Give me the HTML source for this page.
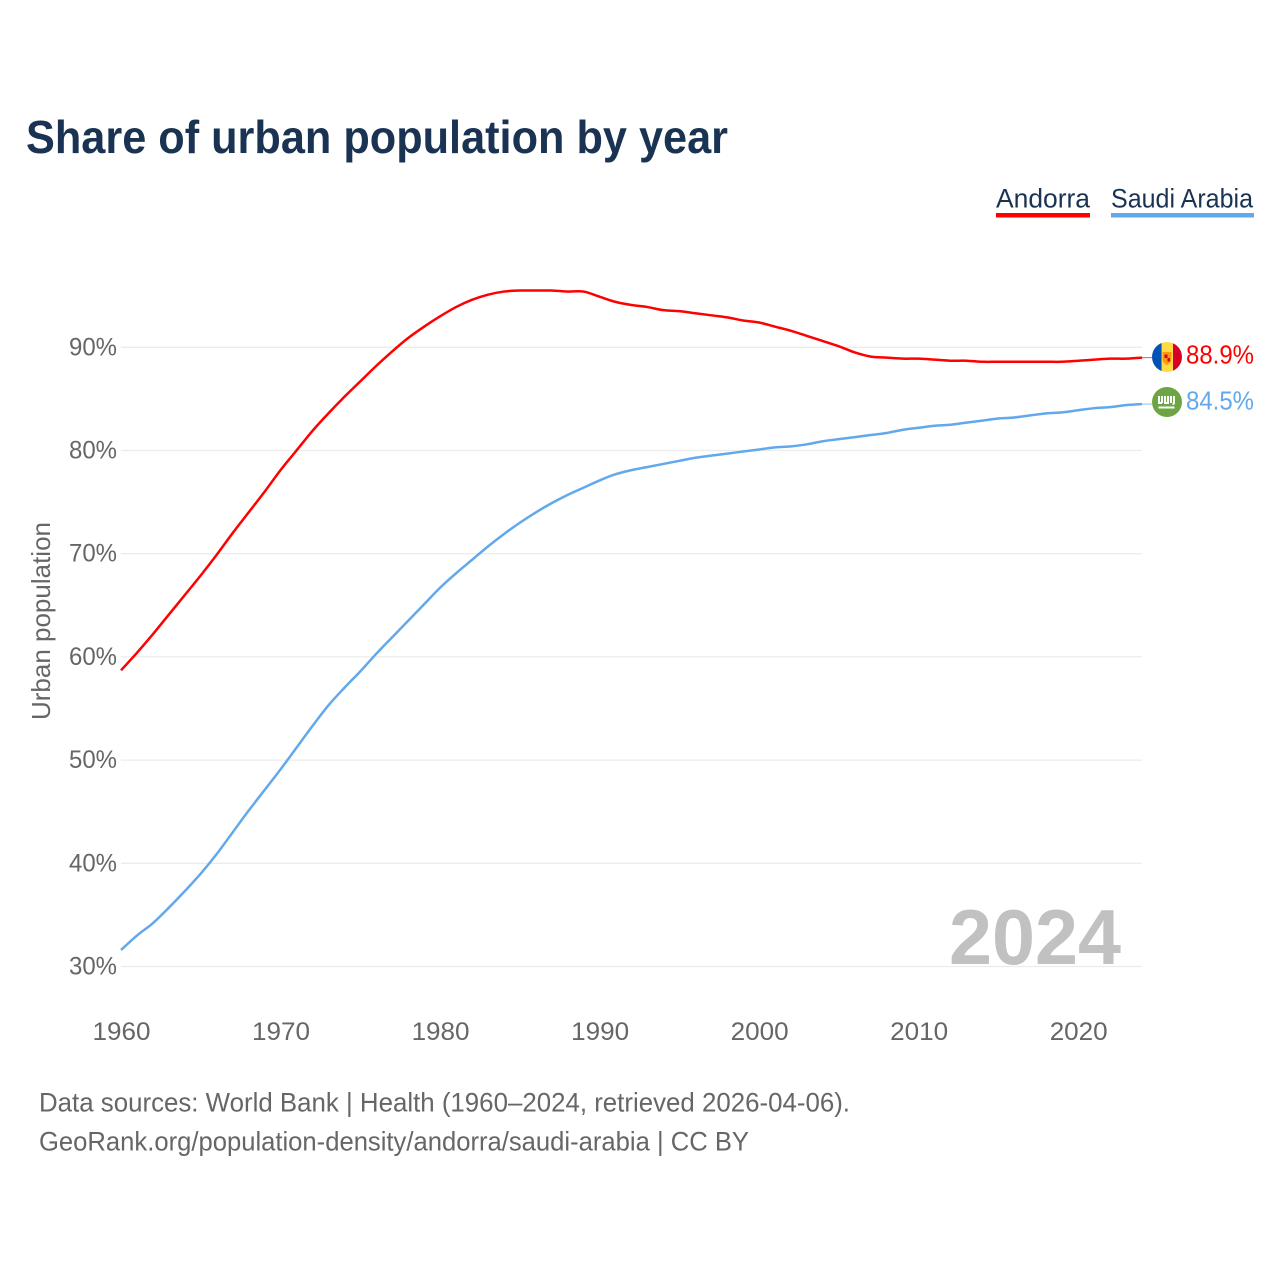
<!DOCTYPE html>
<html>
<head>
<meta charset="utf-8">
<title>Share of urban population by year</title>
<style>
html,body{margin:0;padding:0;background:#fff;width:1280px;height:1280px;overflow:hidden}
svg{display:block}
text{font-family:"Liberation Sans",sans-serif}
</style>
</head>
<body>
<svg id="chart" width="1280" height="1280" viewBox="0 0 1280 1280" xmlns="http://www.w3.org/2000/svg">
  <text x="26" y="153" font-size="46" font-weight="700" fill="#1a3352" textLength="702" lengthAdjust="spacingAndGlyphs">Share of urban population by year</text>

  <g>
    <text x="996" y="207.500" font-size="27" fill="#1a3352" textLength="94" lengthAdjust="spacingAndGlyphs">Andorra</text>
    <rect x="996" y="213" width="94" height="4.5" fill="#ff0000"/>
  </g>
  <g>
    <text x="1111" y="207.500" font-size="27" fill="#1a3352" textLength="142" lengthAdjust="spacingAndGlyphs">Saudi Arabia</text>
    <rect x="1111" y="213" width="143" height="4.5" fill="#62a8eb"/>
  </g>

  <g id="grid"></g>
  <g id="yticks"></g>
  <g id="xticks"></g>

  <text transform="translate(50,720) rotate(-90)" font-size="26" fill="#666666" textLength="198" lengthAdjust="spacingAndGlyphs">Urban population</text>

  <text x="949" y="964" font-size="78" font-weight="700" fill="#c1c1c1" textLength="172" lengthAdjust="spacingAndGlyphs">2024</text>

  <g id="series"></g>

  <g>
    <clipPath id="clip-ad"><circle cx="1167" cy="357" r="15"/></clipPath>
    <g clip-path="url(#clip-ad)">
      <rect x="1152" y="342" width="9.700" height="30" fill="#0052b4"/>
      <rect x="1161.700" y="342" width="11.300" height="30" fill="#ffda44"/>
      <rect x="1173" y="342" width="9" height="30" fill="#d80027"/>
      <path d="M1162.500 352h9v7.500q0 3-4.500 5.500q-4.500-2.500-4.500-5.500z" fill="#ff9811"/>
      <rect x="1164.500" y="354.500" width="3" height="3.500" fill="#d80027"/>
      <rect x="1167.500" y="358" width="2.500" height="3.500" fill="#d80027"/>
    </g>
  </g>
  <g>
    <circle cx="1167" cy="402" r="15" fill="#6da544"/>
    <path d="M1159 396v7h3M1162 396v7M1165 396v7h3v-7M1171 396v7M1174 396v7q0 1-1.500 1" stroke="#fff" stroke-width="2" fill="none"/>
    <rect x="1158.500" y="406.500" width="16" height="2" fill="#fff"/>
  </g>

  <text x="1186" y="363.500" font-size="26" fill="#ff0000" textLength="68" lengthAdjust="spacingAndGlyphs">88.9%</text>
  <text x="1186" y="409.500" font-size="26" fill="#62a8eb" textLength="68" lengthAdjust="spacingAndGlyphs">84.5%</text>

  <text x="39" y="1111.500" font-size="27" fill="#666666" textLength="811" lengthAdjust="spacingAndGlyphs">Data sources: World Bank | Health (1960–2024, retrieved 2026-04-06).</text>
  <text x="39" y="1150.500" font-size="27" fill="#666666" textLength="710" lengthAdjust="spacingAndGlyphs">GeoRank.org/population-density/andorra/saudi-arabia | CC BY</text>
</svg>
<script>
const years = [1960,1961,1962,1963,1964,1965,1966,1967,1968,1969,
  1970,1971,1972,1973,1974,1975,1976,1977,1978,1979,
  1980,1981,1982,1983,1984,1985,1986,1987,1988,1989,
  1990,1991,1992,1993,1994,1995,1996,1997,1998,1999,
  2000,2001,2002,2003,2004,2005,2006,2007,2008,2009,
  2010,2011,2012,2013,2014,2015,2016,2017,2018,2019,
  2020,2021,2022,2023,2024];
const andorra = [58.7,60.4,62.2,64.1,66.0,67.9,69.9,72.0,74.0,76.0,
  78.1,80.0,81.9,83.6,85.2,86.7,88.2,89.6,90.9,92.0,
  93.0,93.9,94.6,95.1,95.4,95.5,95.5,95.5,95.4,95.4,
  94.9,94.4,94.1,93.9,93.6,93.5,93.3,93.1,92.9,92.6,
  92.4,92.0,91.6,91.1,90.6,90.1,89.5,89.1,89.0,88.9,
  88.9,88.8,88.7,88.7,88.6,88.6,88.6,88.6,88.6,88.6,
  88.7,88.8,88.9,88.9,89.0];
const saudiArabia = [31.6,33.0,34.2,35.7,37.3,39.0,40.9,43.0,45.1,47.1,
  49.1,51.2,53.3,55.3,57.0,58.6,60.3,61.9,63.5,65.1,
  66.7,68.1,69.4,70.7,71.9,73.0,74.0,74.9,75.7,76.4,
  77.1,77.7,78.1,78.4,78.7,79.0,79.3,79.5,79.7,79.9,
  80.1,80.3,80.4,80.6,80.9,81.1,81.3,81.5,81.7,82.0,
  82.2,82.4,82.5,82.7,82.9,83.1,83.2,83.4,83.6,83.7,
  83.9,84.1,84.2,84.4,84.5];
const yTickValues = [30,40,50,60,70,80,90];
const yTickLabels = ["30%","40%","50%","60%","70%","80%","90%"];
const xTickValues = [1960,1970,1980,1990,2000,2010,2020];
const xTickLabels = ["1960","1970","1980","1990","2000","2010","2020"];

const NS = 'http://www.w3.org/2000/svg';
function xScale(year){ return 121 + (year - 1960) * (1142 - 121) / 64; }
function yScale(value){ return 966.5 - (value - 30) * 10.32; }

const gridGroup = document.getElementById('grid');
const yGroup = document.getElementById('yticks');
const xGroup = document.getElementById('xticks');
const seriesGroup = document.getElementById('series');

yTickValues.forEach(function(v, i){
  const line = document.createElementNS(NS, 'line');
  
  
  line.setAttribute('x1', 121);
  line.setAttribute('x2', 1142);
  line.setAttribute('y1', yScale(v));
  line.setAttribute('y2', yScale(v));
  line.setAttribute('stroke', '#ececec');
  line.setAttribute('stroke-width', '1.300');
  gridGroup.appendChild(line);

  const t = document.createElementNS(NS, 'text');
  
  
  t.setAttribute('x', 117);
  t.setAttribute('y', yScale(v) + 8);
  t.setAttribute('text-anchor', 'end');
  t.setAttribute('font-size', '25');
  t.setAttribute('fill', '#666666');
  t.setAttribute('textLength', '48');
  t.setAttribute('lengthAdjust', 'spacingAndGlyphs');
  t.textContent = yTickLabels[i];
  yGroup.appendChild(t);
});

xTickValues.forEach(function(v, i){
  const t = document.createElementNS(NS, 'text');
  
  
  t.setAttribute('x', xScale(v) + 0.500);
  t.setAttribute('y', 1040);
  t.setAttribute('text-anchor', 'middle');
  t.setAttribute('font-size', '25');
  t.setAttribute('fill', '#666666');
  t.setAttribute('textLength', '58');
  t.setAttribute('lengthAdjust', 'spacingAndGlyphs');
  t.textContent = xTickLabels[i];
  xGroup.appendChild(t);
});

function pathFor(values){
  const pts = values.map(function(v, i){
    return [xScale(years[i]), yScale(v)];
  });
  let d = 'M' + pts[0][0].toFixed(2) + ' ' + pts[0][1].toFixed(2);
  for (let i = 0; i < pts.length - 1; i++) {
    const p0 = pts[Math.max(i - 1, 0)];
    const p1 = pts[i];
    const p2 = pts[i + 1];
    const p3 = pts[Math.min(i + 2, pts.length - 1)];
    const c1x = p1[0] + (p2[0] - p0[0]) / 6;
    const c1y = p1[1] + (p2[1] - p0[1]) / 6;
    const c2x = p2[0] - (p3[0] - p1[0]) / 6;
    const c2y = p2[1] - (p3[1] - p1[1]) / 6;
    d += 'C' + c1x.toFixed(2) + ' ' + c1y.toFixed(2) + ' ' + c2x.toFixed(2) + ' ' + c2y.toFixed(2) + ' ' + p2[0].toFixed(2) + ' ' + p2[1].toFixed(2);
  }
  return d;
}

const andorraLine = document.createElementNS(NS, 'path');


andorraLine.setAttribute('d', pathFor(andorra));
andorraLine.setAttribute('fill', 'none');
andorraLine.setAttribute('stroke', '#ff0000');
andorraLine.setAttribute('stroke-width', '2.500');
andorraLine.setAttribute('stroke-linejoin', 'round');
seriesGroup.appendChild(andorraLine);

const saudiLine = document.createElementNS(NS, 'path');


saudiLine.setAttribute('d', pathFor(saudiArabia));
saudiLine.setAttribute('fill', 'none');
saudiLine.setAttribute('stroke', '#62a8eb');
saudiLine.setAttribute('stroke-width', '2.500');
saudiLine.setAttribute('stroke-linejoin', 'round');
seriesGroup.appendChild(saudiLine);

const andorraLeader = document.createElementNS(NS, 'line');


andorraLeader.setAttribute('x1', xScale(2024));
andorraLeader.setAttribute('x2', 1152);
andorraLeader.setAttribute('y1', yScale(andorra[andorra.length - 1]));
andorraLeader.setAttribute('y2', yScale(andorra[andorra.length - 1]));
andorraLeader.setAttribute('stroke', '#ff0000');
andorraLeader.setAttribute('stroke-opacity', '0.7');
andorraLeader.setAttribute('stroke-width', '1');
seriesGroup.appendChild(andorraLeader);

const saudiLeader = document.createElementNS(NS, 'line');


saudiLeader.setAttribute('x1', xScale(2024));
saudiLeader.setAttribute('x2', 1152);
saudiLeader.setAttribute('y1', yScale(saudiArabia[saudiArabia.length - 1]));
saudiLeader.setAttribute('y2', yScale(saudiArabia[saudiArabia.length - 1]));
saudiLeader.setAttribute('stroke', '#62a8eb');
saudiLeader.setAttribute('stroke-opacity', '0.7');
saudiLeader.setAttribute('stroke-width', '1');
seriesGroup.appendChild(saudiLeader);
</script>
</body>
</html>
